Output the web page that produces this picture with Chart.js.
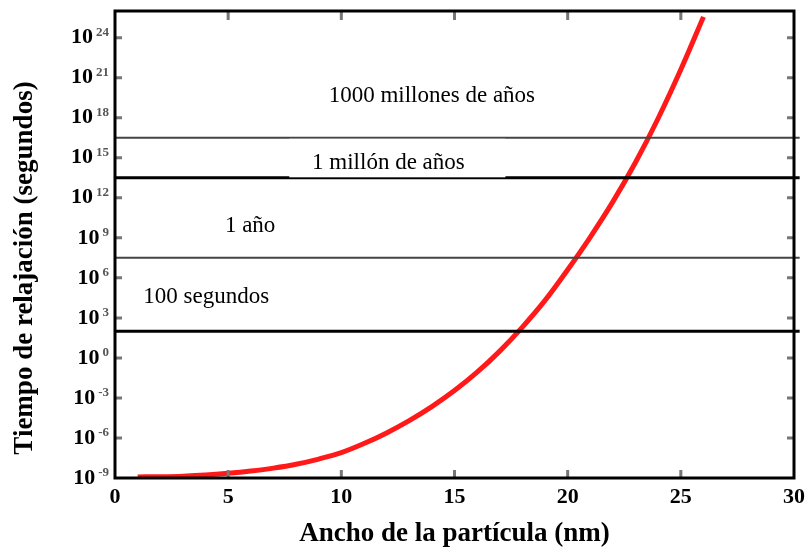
<!DOCTYPE html>
<html>
<head>
<meta charset="utf-8">
<script src="https://cdn.jsdelivr.net/npm/chart.js@4.4.1/dist/chart.umd.min.js"></script>
<style>
  body { margin: 0; background: #fff; }
</style>
</head>
<body>
<canvas id="chart" width="811" height="552"></canvas>
<script>
// --- datos ---
const particleWidth = [1, 2, 3, 4, 5, 6, 7, 8, 9, 10, 11, 12, 13, 14, 15, 16, 17, 18, 19, 20, 21, 22, 23, 24, 25, 26];
// exponente de 10 del tiempo de relajación (s)
const tauExponent = [-8.92, -8.9, -8.86, -8.78, -8.65, -8.48, -8.26, -7.97, -7.58, -7.1, -6.42, -5.62, -4.7, -3.65, -2.45, -1.07, 0.51, 2.31, 4.31, 6.61, 9.06, 11.71, 14.66, 17.96, 21.61, 25.56];

const xTickValues = [0, 5, 10, 15, 20, 25, 30];
const yTickExponents = [-9, -6, -3, 0, 3, 6, 9, 12, 15, 18, 21, 24];

// escalas de tiempo (segundos)
const timeScaleValues = [1e2, 3.15e7, 3.15e13, 3.15e16];
const timeScaleLabels = ["100 segundos", "1 año", "1 millón de años", "1000 millones de años"];

const xTitle = "Ancho de la partícula (nm)";
const yTitle = "Tiempo de relajación (segundos)";

// --- estilo ---
const SERIF = "'Liberation Serif', 'Times New Roman', serif";
// posición de los textos (x en nm, exponente de la línea base)
const labelAnchors = [
    { x: 4.03, e: 4.13 },
    { x: 5.97, e: 9.45 },
    { x: 12.08, e: 14.18 },
    { x: 14.0, e: 19.2 }
];

/** Marco, marcas internas, etiquetas del eje y y textos. */
const decorations = {
    id: "decorations",
    afterDatasetsDraw(chart) {
        const { ctx, chartArea: a, scales: { x, y } } = chart;
        ctx.save();

        // recuadro blanco detrás de "1 millón de años"
        const boxTop = y.getPixelForValue(timeScaleValues[3]) + 1;
        const boxBottom = y.getPixelForValue(timeScaleValues[2]) - 0.5;
        ctx.fillStyle = "#fff";
        ctx.fillRect(x.getPixelForValue(7.7), boxTop, x.getPixelForValue(17.25) - x.getPixelForValue(7.7), boxBottom - boxTop);

        // marcas hacia dentro
        ctx.strokeStyle = "#777";
        ctx.lineWidth = 3;
        ctx.beginPath();
        x.ticks.forEach(t => {
            const px = x.getPixelForValue(t.value);
            if (px <= a.left + 3 || px >= a.right - 3) return;
            ctx.moveTo(px, a.bottom); ctx.lineTo(px, a.bottom - 8);
            ctx.moveTo(px, a.top); ctx.lineTo(px, a.top + 9);
        });
        y.ticks.forEach(t => {
            const py = y.getPixelForValue(t.value);
            if (py >= a.bottom - 3 || py <= a.top + 3) return;
            ctx.moveTo(a.left, py); ctx.lineTo(a.left + 7, py);
            ctx.moveTo(a.right, py); ctx.lineTo(a.right - 7, py);
        });
        ctx.stroke();

        // marco
        ctx.strokeStyle = "#000";
        ctx.lineWidth = 3;
        ctx.strokeRect(a.left, a.top, a.right - a.left, a.bottom - a.top);

        // etiquetas 10^n
        ctx.textAlign = "right";
        ctx.textBaseline = "middle";
        yTickExponents.forEach(e => {
            const py = y.getPixelForValue(Math.pow(10, e));
            const exp = e < 0 ? "-" + Math.abs(e) : String(e);
            ctx.font = "bold 13px " + SERIF;
            ctx.fillStyle = "#555";
            ctx.fillText(exp, 109, py - 5);
            const w = ctx.measureText(exp).width;
            ctx.font = "bold 22px " + SERIF;
            ctx.fillStyle = "#000";
            ctx.fillText("10", 109 - w - 3, py);
        });

        // textos de las escalas de tiempo
        ctx.font = "23px " + SERIF;
        ctx.fillStyle = "#000";
        ctx.textAlign = "center";
        ctx.textBaseline = "alphabetic";
        timeScaleLabels.forEach((txt, i) => {
            const p = labelAnchors[i];
            ctx.fillText(txt, x.getPixelForValue(p.x), y.getPixelForValue(Math.pow(10, p.e)));
        });

        // título del eje y
        ctx.translate(25, 268);
        ctx.rotate(-Math.PI / 2);
        ctx.font = "bold 27px " + SERIF;
        ctx.textBaseline = "middle";
        ctx.fillText(yTitle, 0, 0);
        ctx.restore();
    }
};

const curveData = particleWidth.map((d, i) => ({ x: d, y: Math.pow(10, tauExponent[i]) }));

const lineDatasets = timeScaleValues.map((v, i) => ({
    data: [{ x: 0, y: v }, { x: 30.25, y: v }],
    borderColor: i % 2 ? "#444" : "#000",
    borderWidth: i % 2 ? 2 : 3,
    pointRadius: 0,
    clip: false,
    order: 1
}));

new Chart(document.getElementById("chart"), {
    type: "line",
    data: {
        datasets: [
            ...lineDatasets,
            {
                data: curveData,
                borderColor: "rgba(255, 0, 0, 0.9)",
                borderWidth: 5,
                pointRadius: 0,
                cubicInterpolationMode: "monotone",
                order: 2
            }
        ]
    },
    options: {
        responsive: false,
        animation: false,
        layout: { padding: { top: 11, right: 17, left: 0, bottom: 0 } },
        plugins: { legend: { display: false }, tooltip: { enabled: false } },
        scales: {
            x: {
                type: "linear",
                min: 0,
                max: 30,
                afterBuildTicks: s => { s.ticks = xTickValues.map(v => ({ value: v })); },
                afterFit: s => { s.height = 74; },
                grid: { display: false, drawTicks: false },
                border: { display: false },
                ticks: { color: "#000", padding: 6, font: { family: SERIF, size: 22, weight: "bold" } },
                title: {
                    display: true,
                    text: xTitle,
                    color: "#000",
                    padding: { top: 0, bottom: 2 },
                    font: { family: SERIF, size: 27, weight: "bold" }
                }
            },
            y: {
                type: "logarithmic",
                min: 1e-9,
                max: 1e26,
                afterBuildTicks: s => { s.ticks = yTickExponents.map(e => ({ value: Math.pow(10, e) })); },
                afterFit: s => { s.width = 115; },
                grid: { display: false, drawTicks: false },
                border: { display: false },
                ticks: { display: false }
            }
        }
    },
    plugins: [decorations]
});
</script>
</body>
</html>
